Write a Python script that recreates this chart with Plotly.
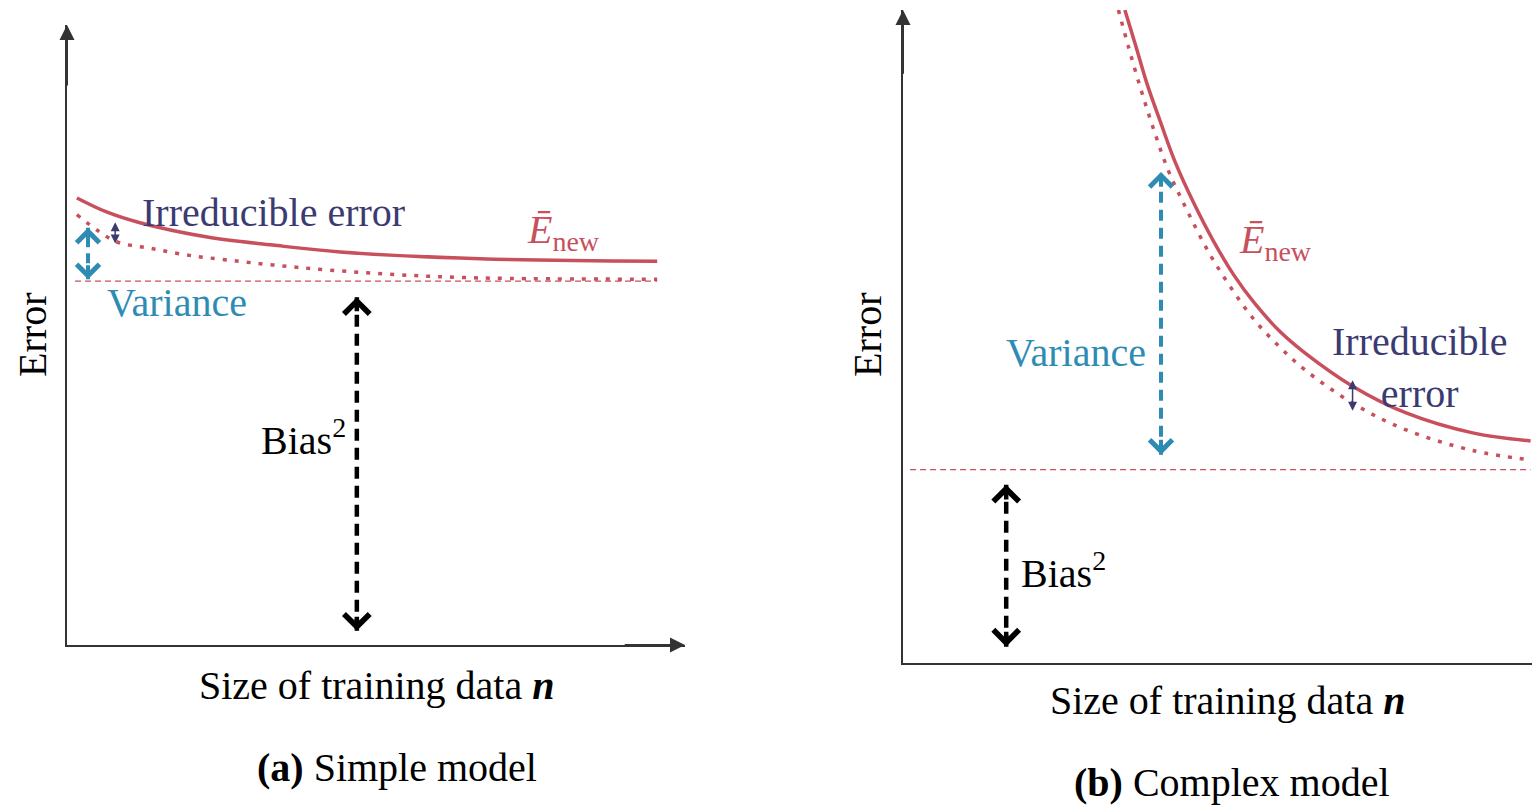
import plotly.graph_objects as go

# ---------------- data (arbitrary units, axes 0..100) ----------------
# Panel (a): simple model
a_n = [1.6, 6.5, 11.8, 22.7, 33.3, 44.2, 66.8, 95.5]
a_enew = [72.1, 69.8, 68.1, 65.8, 64.5, 63.4, 62.3, 61.9]
a_n_dot = [1.6, 4.9, 8.1, 13.4, 19.4, 25.9, 33.3, 42.1, 53.9, 66.8, 95.5]
a_noise_free = [69.4, 66.9, 65.0, 64.0, 62.9, 62.1, 61.3, 60.5, 59.7, 59.2, 59.0]
a_bias_level = 58.7
a_bias_span = [1.3, 95.5]
a_var_arrow = {"n": 3.4, "lo": 59.0, "hi": 67.3}
a_irr_arrow = {"n": 7.8, "lo": 64.5, "hi": 68.2}
a_bias_arrow = {"n": 46.9, "lo": 2.3, "hi": 56.1}

# Panel (b): complex model
b_n = [34.4, 36.0, 37.8, 39.9, 42.2, 45.1, 48.2, 51.3, 54.5, 58.4, 62.3, 69.7, 78.0, 88.5, 97.3]
b_enew = [100.0, 94.8, 88.8, 82.9, 76.7, 70.4, 64.5, 59.4, 55.1, 50.8, 47.5, 42.4, 38.3, 35.2, 34.0]
b_n_dot = [33.4, 35.0, 36.9, 38.8, 41.1, 44.0, 47.4, 50.9, 54.5, 58.4, 62.3, 70.2, 78.0, 88.5, 97.3]
b_noise_free = [100.0, 94.2, 87.8, 81.9, 75.5, 69.4, 62.9, 57.4, 52.5, 48.4, 44.9, 39.5, 35.7, 32.5, 31.1]
b_bias_level = 29.6
b_bias_span = [1.1, 97.3]
b_var_arrow = {"n": 40.0, "lo": 31.9, "hi": 75.2}
b_irr_arrow = {"n": 69.7, "lo": 38.4, "hi": 43.3}
b_bias_arrow = {"n": 16.0, "lo": 2.5, "hi": 27.3}

# ---------------- styles ----------------
RED = "#c8505c"
TEAL = "#2e8cb4"
NAVY = "#3b3b72"
AX = "#333333"
FONT = "Liberation Serif"
FS = 40

fig = go.Figure()


def add_panel(xa, ya, n, enew, n_dot, nf, bias_level, bias_span):
    fig.add_trace(go.Scatter(x=n, y=enew, mode="lines", xaxis=xa, yaxis=ya,
                             line=dict(color=RED, width=3.5, shape="spline", smoothing=1.0),
                             hoverinfo="skip"))
    fig.add_trace(go.Scatter(x=n_dot, y=nf, mode="lines", xaxis=xa, yaxis=ya,
                             line=dict(color=RED, width=3.5, dash="4px,8px", shape="spline",
                                       smoothing=1.0),
                             hoverinfo="skip"))
    fig.add_trace(go.Scatter(x=bias_span, y=[bias_level, bias_level], mode="lines",
                             xaxis=xa, yaxis=ya,
                             line=dict(color=RED, width=1.3, dash="6px,4px"),
                             hoverinfo="skip"))


def dashed_arrow(xa, ya, arr, color, width, dash, head_len):
    fig.add_trace(go.Scatter(x=[arr["n"], arr["n"]], y=[arr["lo"], arr["hi"]], mode="lines",
                             xaxis=xa, yaxis=ya,
                             line=dict(color=color, width=width, dash=dash),
                             hoverinfo="skip"))
    for tip, tail in ((arr["hi"], arr["hi"] - head_len), (arr["lo"], arr["lo"] + head_len)):
        fig.add_annotation(x=arr["n"], y=tip, ax=arr["n"], ay=tail, xref=xa, yref=ya,
                           axref=xa, ayref=ya, showarrow=True, arrowhead=4,
                           arrowsize=1.1, arrowwidth=width, arrowcolor=color, text="")


def small_double_arrow(xref, yref, arr):
    fig.add_annotation(x=arr["n"], y=arr["hi"], ax=arr["n"], ay=arr["lo"], xref=xref, yref=yref,
                       axref=xref, ayref=yref, showarrow=True, arrowhead=2, startarrowhead=2,
                       arrowside="end+start", arrowsize=1.2, startarrowsize=1.2, arrowwidth=1.5,
                       arrowcolor=NAVY, text="")


add_panel("x", "y", a_n, a_enew, a_n_dot, a_noise_free, a_bias_level, a_bias_span)
add_panel("x2", "y2", b_n, b_enew, b_n_dot, b_noise_free, b_bias_level, b_bias_span)

dashed_arrow("x", "y", a_var_arrow, TEAL, 4, "10px,6px", 2.5)
dashed_arrow("x", "y", a_bias_arrow, "black", 4.5, "12px,7px", 2.5)
dashed_arrow("x2", "y2", b_var_arrow, TEAL, 4, "11px,7px", 2.5)
dashed_arrow("x2", "y2", b_bias_arrow, "black", 4.5, "12px,7px", 2.5)
small_double_arrow("x", "y", a_irr_arrow)
small_double_arrow("x2", "y2", b_irr_arrow)

# axis arrowheads
for xr, yr, tip, tail in (("x", "y", (0, 100), (0, 90)),
                          ("x", "y", (100, 0), (90, 0)),
                          ("x2", "y2", (0, 100), (0, 90))):
    fig.add_annotation(x=tip[0], y=tip[1], ax=tail[0], ay=tail[1], xref=xr, yref=yr,
                       axref=xr, ayref=yr, showarrow=True, arrowhead=2, arrowsize=1.5,
                       arrowwidth=2, arrowcolor=AX, text="")


def txt(text, x, y, xref, yref, color="black", xanchor="center", angle=0, yanchor="middle"):
    fig.add_annotation(text=text, x=x, y=y, xref=xref, yref=yref, showarrow=False,
                       xanchor=xanchor, yanchor=yanchor, textangle=angle,
                       font=dict(family=FONT, size=FS, color=color))


ENEW = "<i>Ē</i><sub>new</sub>"
BIAS = "Bias<sup>2</sup>"

# panel (a) labels
txt("Irreducible error", 11.8, 69.8, "x", "y", NAVY, "left")
txt("Variance", 6.1, 55.3, "x", "y", TEAL, "left")
txt(ENEW, 74.1, 66.6, "x", "y", RED, "left")
txt(BIAS, 45.4, 33.4, "x", "y", "black", "right")
# panel (b) labels
txt("Variance", 38.0, 47.6, "x2", "y2", TEAL, "right")
txt(ENEW, 51.8, 64.4, "x2", "y2", RED, "left")
txt("Irreducible<br>error", 80.1, 45.3, "x2", "y2", NAVY, "center")
txt(BIAS, 18.0, 14.1, "x2", "y2", "black", "left")

# axis titles and captions (paper coords; page body has an 8px margin)
txt("Error", 0.0162, 0.5943, "paper", "paper", angle=-90)
txt("Error", 0.5584, 0.5943, "paper", "paper", angle=-90)
txt("Size of training data <b><i>n</i></b>", 0.2390, 0.1600, "paper", "paper")
txt("Size of training data <b><i>n</i></b>", 0.7922, 0.1414, "paper", "paper")
txt("<b>(a)</b> Simple model", 0.2526, 0.0571, "paper", "paper")
txt("<b>(b)</b> Complex model", 0.7948, 0.0385, "paper", "paper")

ax_common = dict(range=[0, 100], showgrid=False, zeroline=False, showticklabels=False,
                 ticks="", showline=True, linecolor=AX, linewidth=2, fixedrange=True)

fig.update_layout(
    width=1540, height=806, autosize=False,
    margin=dict(l=0, r=0, t=0, b=0),
    paper_bgcolor="white", plot_bgcolor="white",
    showlegend=False,
    xaxis=dict(domain=[59 / 1540, 677 / 1540], anchor="y", **ax_common),
    yaxis=dict(domain=[169 / 806, 789 / 806], anchor="x", **ax_common),
    xaxis2=dict(domain=[895 / 1540, 1.0], anchor="y2", **ax_common),
    yaxis2=dict(domain=[151 / 806, 804 / 806], anchor="x2", **ax_common),
    font=dict(family=FONT),
)

fig.write_html("out.html")
